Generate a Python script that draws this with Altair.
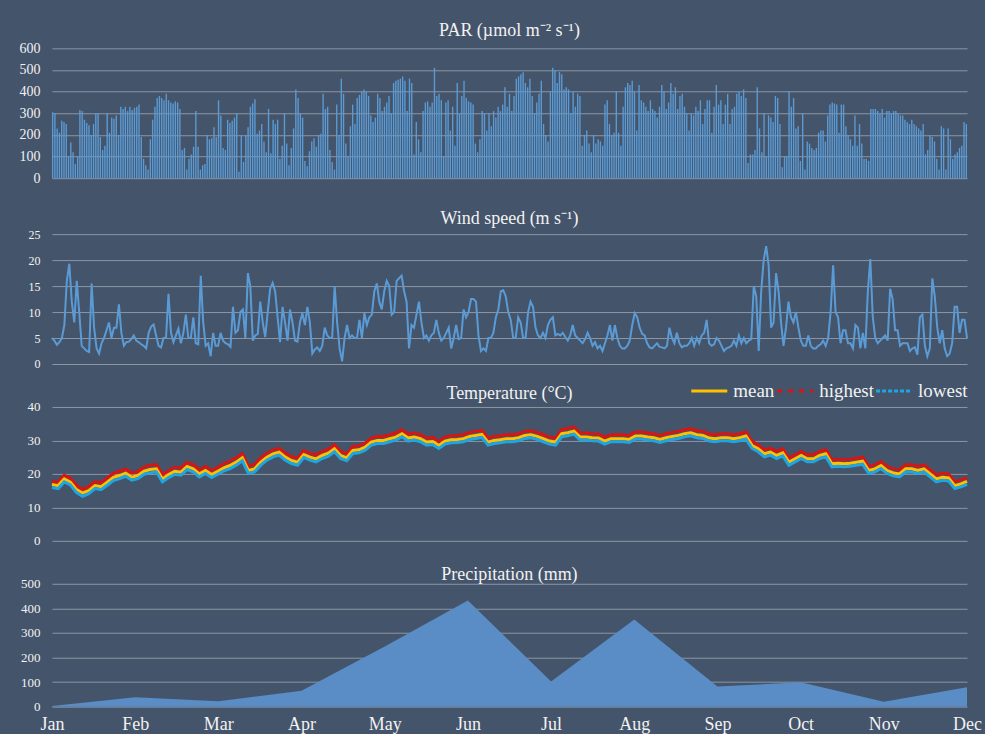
import altair as alt
import pandas as pd

# ---- Daily PAR (µmol m-2 s-1), Jan -> Dec in three runs ----
par_a = [305, 300, 230, 210, 265, 260, 250, 100, 165, 120,
         65, 100, 315, 310, 270, 255, 245, 200, 250, 300,
         300, 190, 130, 150, 300, 210, 280, 275, 290, 200,
         330, 320, 330, 310, 330, 315, 325, 330, 340, 190,
         90, 60, 40, 180, 270, 330, 370, 380, 370, 360,
         390, 360, 350, 345, 355, 350, 320, 130, 140, 40,
         90, 110, 145, 310, 145, 40, 60, 65, 200, 180,
         185, 235, 190, 360, 290, 140, 130, 270, 255, 265,
         280, 300, 30, 200, 75, 200, 235, 330, 345, 365,
         205, 220, 250, 170, 120, 320, 115, 270, 250, 270,
         90, 150, 300, 160, 60, 140, 230, 410, 370, 300,
         280, 80, 55, 125, 170, 185, 145, 200, 205, 390]
par_b = [320, 330, 130, 75, 40, 340, 200, 460, 390, 160,
         100, 240, 340, 250, 370, 385, 400, 410, 400, 380,
         290, 260, 280, 390, 370, 310, 330, 350, 380, 300,
         440, 450, 455, 460, 470, 450, 310, 460, 440, 110,
         260, 180, 120, 310, 350, 355, 330, 350, 510, 380,
         390, 360, 100, 350, 360, 220, 330, 150, 440, 300,
         380, 450, 370, 355, 350, 340, 160, 120, 180, 310,
         300, 220, 300, 240, 310, 280, 330, 310, 340, 420,
         330, 390, 310, 380, 460, 470, 480, 490, 440, 420,
         460, 380, 300, 350, 390, 450, 250, 200, 170, 400,
         510, 500, 440, 490, 480, 410, 420, 410, 300, 400,
         330, 390, 380, 150, 200, 220, 160, 120, 200, 160,
         180, 170, 150, 340, 360, 250, 200, 210, 400, 210,
         150, 330, 420, 440, 430, 450, 400, 220, 430, 360,
         350, 330, 310, 360]
par_c = [320, 310, 280, 330, 430, 400, 320, 350, 440, 390,
         420, 320, 380, 390, 330, 300, 220, 300, 290, 330,
         310, 360, 250, 320, 360, 360, 210, 330, 430, 340,
         360, 250, 340, 390, 250, 320, 330, 390, 400, 380,
         410, 370, 70, 110, 110, 130, 420, 230, 120, 300,
         100, 290, 280, 260, 380, 370, 250, 50, 100, 100,
         400, 330, 370, 230, 240, 80, 300, 40, 170, 160,
         140, 130, 140, 210, 220, 220, 170, 290, 340, 350,
         345, 340, 210, 340, 340, 240, 200, 180, 150, 290,
         150, 250, 160, 90, 90, 80, 320, 320, 320, 310,
         300, 320, 280, 310, 310, 300, 310, 310, 300, 290,
         290, 270, 260, 250, 270, 250, 240, 230, 220, 250,
         110, 130, 200, 190, 170, 90, 40, 240, 230, 40,
         230, 180, 90, 110, 120, 140, 150, 260, 250]
par = par_a + par_b + par_c

# ---- Daily wind speed (m s-1) ----
wind_a = [5, 4.5, 3.7, 4.2, 5, 7.5, 16, 19.3, 12, 8,
          16, 10, 3.5, 3, 2.5, 2.3, 15.5, 7, 3, 2,
          4, 5, 6.5, 8, 5, 7, 7, 11.5, 6, 3.5,
          4.2, 4.3, 4.8, 5.5, 4.5, 4.2, 3.8, 3.5, 3, 6,
          7.2, 7.6, 5.5, 3.5, 3.2, 5, 5, 13.5, 6, 4.2,
          5.5, 6.8, 4, 6, 9.5, 5, 5, 9, 4, 3.8,
          17, 8, 3.5, 4, 1.5, 6, 3.5, 3.5, 6, 4.5,
          4, 3.8, 3.3, 11, 6, 6.5, 10, 10.5, 5, 17.5,
          15, 4.5, 5.5, 5.8, 12, 8, 5.2, 10, 14.5, 15.6,
          14, 9, 4.2, 11, 8, 4.5, 10.5, 8, 4.5, 4.3,
          8, 9.8, 7.5, 11, 8, 2, 2.8, 3.2, 2.5, 3.5,
          7, 5.5]
wind_b = [5, 5, 15, 8, 3, 0.5, 5, 7.5, 5, 5.5,
          5, 5, 8.5, 5, 9.8, 7.5, 9, 9.5, 14, 15.5,
          12, 10.5, 14, 16, 15, 9.5, 10, 16, 16.5, 17,
          14, 12, 3, 7.5, 7, 9.5, 12, 8, 5, 5.5,
          4.5, 5.5, 6, 8.5, 6, 4.5, 5, 6, 7, 3,
          5, 7.5, 4.8, 5, 10.5, 9, 10, 12.5, 12.5, 12,
          5.5, 2.5, 3, 2.5, 5, 5, 6, 9, 10.5, 14,
          14.2, 13, 10, 8.5, 5, 5, 9, 8, 5, 5,
          10, 12, 11, 7, 5.5, 5, 6, 5, 7.5, 8.5,
          9, 5.5, 5.8, 5.5, 6, 5.2, 4.5, 5.5, 7.5, 5.5,
          5, 4.5, 4, 4.8, 6, 5, 3.5, 4.2, 3, 3.5,
          2.5, 4, 5.5, 7.5, 4.5, 7.5, 5, 3.5, 3, 3,
          3.5, 4.5, 7.5, 9.8, 9, 7, 5.8, 5.5, 4, 3.2,
          3, 3.5, 4]
wind_c = [3.3, 3.2, 3, 3.5, 7, 5, 4, 6, 4, 3.2,
          3.5, 3.5, 4, 5, 3.5, 5, 4, 5.5, 6, 8.5,
          4, 3.5, 3.8, 5, 4.5, 3.5, 2.5, 3, 3.2, 3.5,
          4.5, 3.5, 5.5, 4, 5, 4, 4.5, 4.8, 15, 13,
          2.5, 14, 20, 22.7, 19, 7, 8, 17.5, 14, 8,
          3.5, 7, 12, 9, 8, 10, 7, 4.5, 3.5, 3.5,
          5.5, 3.5, 3, 3, 3.5, 3.8, 4.5, 3.5, 5, 10,
          19, 10, 9, 4, 6.5, 6.5, 4, 4, 3, 7.5,
          7, 3, 6, 3, 14, 20.2, 9, 5, 4, 4.5,
          5, 5.5, 4.5, 14.5, 12.5, 6.5, 6.5, 3.5, 4, 4,
          4, 2.5, 3, 3.2, 1.8, 9, 9.5, 3.5, 1.5, 3,
          16.5, 13, 7, 4, 6.5, 3, 1.5, 2, 4, 11,
          11, 6, 8.5, 8.5, 5]
wind = wind_a + wind_b + wind_c

# ---- Air temperature (°C): mean, daily highest, daily lowest ----
t_mean_a = [16.8, 16.5, 18.5, 17.5, 15.3, 14.3, 15.0, 16.5, 16.2, 17.5,
            19.0, 19.5, 20.2, 19.0, 19.5, 20.8, 21.3, 21.5, 18.5, 19.8,
            20.8, 20.5, 22.2, 21.5, 20.0, 21.0, 19.8, 20.8, 21.8, 22.5,
            23.5, 24.8, 21.0, 21.5, 23.5, 25.0, 26.0, 26.5, 25.0, 24.0,
            23.5, 25.8, 25.0, 24.5, 25.5]
t_high_a = [17.9, 17.6, 19.6, 18.8, 16.5, 15.4, 16.2, 17.7, 17.4, 18.8,
            20.2, 20.8, 21.4, 20.3, 20.7, 22.0, 22.6, 22.8, 19.8, 21.0,
            22.0, 21.8, 23.4, 22.8, 21.2, 22.2, 21.0, 22.0, 23.0, 23.8,
            24.8, 26.0, 22.2, 22.8, 24.8, 26.2, 27.2, 27.6, 26.2, 25.2,
            24.7, 27.0, 26.2, 25.7, 26.7]
t_low_a = [15.9, 15.6, 17.6, 16.7, 14.4, 13.3, 14.1, 15.6, 15.3, 16.6,
           18.0, 18.6, 19.3, 18.1, 18.6, 19.9, 20.3, 20.6, 17.6, 18.9,
           19.9, 19.6, 21.3, 20.6, 19.1, 20.1, 18.9, 19.9, 20.9, 21.6,
           22.6, 23.9, 20.1, 20.6, 22.6, 24.1, 25.1, 25.6, 24.1, 23.1,
           22.6, 24.9, 24.1, 23.6, 24.6]
t_mean_b = [26.2, 27.5, 25.5, 24.8, 27.0, 27.2, 28.0, 29.5, 30.0, 30.0,
            30.5, 31.0, 32.0, 30.7, 31.0, 30.5, 29.5, 29.7, 28.5, 29.8,
            30.2, 30.3, 30.5, 31.2, 31.5, 31.8, 29.5, 30.0, 30.2, 30.5,
            30.5, 30.8, 31.5, 31.7, 31.2, 30.5, 29.8, 29.5, 32.0, 32.3,
            32.8, 31.0, 31.0, 30.8, 30.7, 29.8, 30.5, 30.5, 30.5, 30.3,
            31.3, 31.3, 31.0, 30.8]
t_high_b = [27.4, 28.7, 26.7, 26.0, 28.2, 28.4, 29.2, 30.7, 31.2, 31.2,
            31.7, 32.2, 33.2, 31.9, 32.2, 31.7, 30.7, 30.9, 29.7, 31.0,
            31.4, 31.5, 31.7, 32.4, 32.7, 33.0, 30.7, 31.2, 31.4, 31.7,
            31.7, 32.0, 32.7, 32.9, 32.4, 31.7, 31.0, 30.7, 33.2, 33.6,
            34.0, 32.2, 32.2, 32.0, 31.9, 31.0, 31.7, 31.7, 31.7, 31.5,
            32.5, 32.5, 32.2, 32.0]
t_low_b = [25.3, 26.6, 24.6, 23.9, 26.1, 26.3, 27.1, 28.6, 29.1, 29.1,
           29.6, 30.1, 31.1, 29.8, 30.1, 29.6, 28.6, 28.8, 27.6, 28.9,
           29.3, 29.4, 29.6, 30.3, 30.6, 30.9, 28.6, 29.1, 29.3, 29.6,
           29.6, 29.9, 30.6, 30.8, 30.3, 29.6, 28.9, 28.6, 31.1, 31.4,
           31.9, 30.1, 30.1, 29.9, 29.8, 28.9, 29.6, 29.6, 29.6, 29.4,
           30.4, 30.4, 30.1, 29.9]
t_mean_c = [30.3, 30.8, 31.2, 31.5, 32.0, 32.3, 31.7, 31.5, 30.7, 30.5,
            30.8, 30.8, 30.5, 30.8, 31.3, 28.5, 27.5, 26.0, 26.5, 25.5,
            26.3, 23.5, 24.5, 25.5, 24.5, 24.5, 25.5, 26.0, 23.0, 23.2,
            23.0, 23.2, 23.5, 23.8, 21.0, 21.5, 22.5, 21.0, 20.3, 20.0,
            21.5, 21.5, 21.0, 21.5, 20.0, 18.5, 19.0, 18.8, 16.5, 17.0,
            17.8]
t_high_c = [31.5, 32.0, 32.4, 32.7, 33.2, 33.5, 32.9, 32.7, 31.9, 31.7,
            32.0, 32.0, 31.7, 32.0, 32.5, 29.7, 28.7, 27.2, 27.7, 26.7,
            27.5, 24.7, 25.7, 26.7, 25.7, 25.7, 26.7, 27.2, 24.2, 24.4,
            24.2, 24.4, 24.7, 25.0, 22.2, 22.7, 23.7, 22.2, 21.5, 21.2,
            22.7, 22.7, 22.2, 22.7, 21.2, 19.7, 20.2, 20.0, 17.7, 18.2,
            18.9]
t_low_c = [29.4, 29.9, 30.3, 30.6, 31.1, 31.4, 30.8, 30.6, 29.8, 29.6,
           29.9, 29.9, 29.6, 29.9, 30.4, 27.6, 26.6, 25.1, 25.6, 24.6,
           25.4, 22.6, 23.6, 24.6, 23.6, 23.6, 24.6, 25.1, 22.1, 22.3,
           22.1, 22.3, 22.6, 22.9, 20.1, 20.6, 21.6, 20.1, 19.4, 19.1,
           20.6, 20.6, 20.1, 20.6, 19.1, 17.6, 18.1, 17.9, 15.6, 16.1,
           16.9]
t_mean = t_mean_a + t_mean_b + t_mean_c
t_high = t_high_a + t_high_b + t_high_c
t_low = t_low_a + t_low_b + t_low_c

# ---- Monthly precipitation (mm) ----
months = ["Jan", "Feb", "Mar", "Apr", "May", "Jun",
          "Jul", "Aug", "Sep", "Oct", "Nov", "Dec"]
precip = [3, 38, 22, 65, 245, 432, 102, 355, 82, 99, 20, 79]

series_names = ["mean", "highest", "lowest"]
series_colors = ["#FFC000", "#D81414", "#1EA6E2"]
series_dash = [[1, 0], [5, 6], [4, 2]]

# ---- styling ----
BG = "#44546A"
GRID = "#8C97A6"
TEXT = "#F2F2F2"
SERIF = "Liberation Serif"
BLUE = "#5B9BD5"
PLOT_W = 916


def y_axis(values, size=13):
    return alt.Axis(values=values, title=None, domain=False, ticks=False,
                    grid=True, gridColor=GRID, gridWidth=1,
                    labelColor=TEXT, labelFont=SERIF, labelFontSize=size,
                    labelPadding=12)


def panel_title(text, offset):
    return alt.TitleParams(text=text, font=SERIF, fontSize=18,
                           fontWeight="normal", color=TEXT, offset=offset,
                           anchor="middle", baseline="bottom")


# PAR bars
par_df = pd.DataFrame({"day": list(range(len(par))), "par": par})
par_chart = alt.Chart(
    par_df, title=panel_title("PAR (µmol m⁻² s⁻¹)", -17)
).mark_bar(color=BLUE).encode(
    x=alt.X("day:O", axis=None,
            scale=alt.Scale(paddingInner=0.4, paddingOuter=0)),
    y=alt.Y("par:Q", scale=alt.Scale(domain=[0, 600]),
            axis=y_axis([0, 100, 200, 300, 400, 500, 600], 14)),
).properties(width=PLOT_W, height=130)

# Wind speed line
wind_df = pd.DataFrame({"day": list(range(len(wind))), "speed": wind})
wind_chart = alt.Chart(
    wind_df, title=panel_title("Wind speed (m s⁻¹)", -18)
).mark_line(color=BLUE, strokeWidth=2).encode(
    x=alt.X("day:Q", axis=None,
            scale=alt.Scale(domain=[0, len(wind) - 1], nice=False, zero=False)),
    y=alt.Y("speed:Q", scale=alt.Scale(domain=[0, 25]),
            axis=y_axis([0, 5, 10, 15, 20, 25], 12)),
).properties(width=PLOT_W, height=130)

# Temperature lines
rows = []
for i, (m, h, l) in enumerate(zip(t_mean, t_high, t_low)):
    rows.append({"step": i, "series": "highest", "t": h})
    rows.append({"step": i, "series": "mean", "t": m})
    rows.append({"step": i, "series": "lowest", "t": l})
temp_df = pd.DataFrame(rows)

temp_legend = alt.Legend(orient="none", legendX=638, legendY=-36,
                         direction="horizontal", title=None,
                         labelFont=SERIF, labelFontSize=19, labelColor=TEXT,
                         symbolType="stroke", symbolSize=1300,
                         symbolStrokeWidth=3, labelOffset=4,
                         columnPadding=-6, padding=0)
tx = alt.X("step:Q", axis=None,
           scale=alt.Scale(domain=[0, len(t_mean) - 1], nice=False, zero=False))
ty = alt.Y("t:Q", scale=alt.Scale(domain=[0, 40]),
           axis=y_axis([0, 10, 20, 30, 40], 13))
tcolor = alt.Color("series:N",
                   scale=alt.Scale(domain=series_names, range=series_colors),
                   legend=temp_legend)

temp_lines = alt.Chart(temp_df).mark_line(strokeWidth=3).encode(
    x=tx, y=ty, color=tcolor)
# line-style key only (no data drawn)
temp_key = alt.Chart(temp_df).transform_filter("false").mark_line(
    strokeWidth=3).encode(
    x=tx, y=ty, color=tcolor,
    strokeDash=alt.StrokeDash(
        "series:N", scale=alt.Scale(domain=series_names, range=series_dash),
        legend=temp_legend))
temp_chart = alt.layer(
    temp_lines, temp_key, title=panel_title("Temperature (°C)", -50)
).properties(width=PLOT_W, height=134)

# Precipitation area
precip_df = pd.DataFrame({"month": months, "mm": precip})
precip_chart = alt.Chart(
    precip_df, title=panel_title("Precipitation (mm)", -24)
).mark_area(color="#5A8CC6", opacity=1).encode(
    x=alt.X("month:N", sort=months,
            scale=alt.Scale(type="point", padding=0),
            axis=alt.Axis(title=None, labelAngle=0, domain=False, ticks=False,
                          grid=False, labelColor=TEXT, labelFont=SERIF,
                          labelFontSize=18, labelPadding=9)),
    y=alt.Y("mm:Q", scale=alt.Scale(domain=[0, 500]),
            axis=y_axis([0, 100, 200, 300, 400, 500], 13)),
).properties(width=PLOT_W, height=123)

lower = alt.vconcat(
    wind_chart, temp_chart, precip_chart, spacing=43, bounds="flush"
).resolve_scale(color="independent", strokeDash="independent").resolve_legend(
    color="independent", strokeDash="independent")

chart = alt.vconcat(
    par_chart, lower, spacing=56, bounds="flush",
).resolve_scale(color="independent", strokeDash="independent").resolve_legend(
    color="independent", strokeDash="independent"
).properties(
    background=BG,
    padding={"left": 19, "top": 22, "right": 3, "bottom": 0},
).configure_view(stroke=None)

chart.save("out.html", embed_options={"renderer": "svg", "actions": False})
